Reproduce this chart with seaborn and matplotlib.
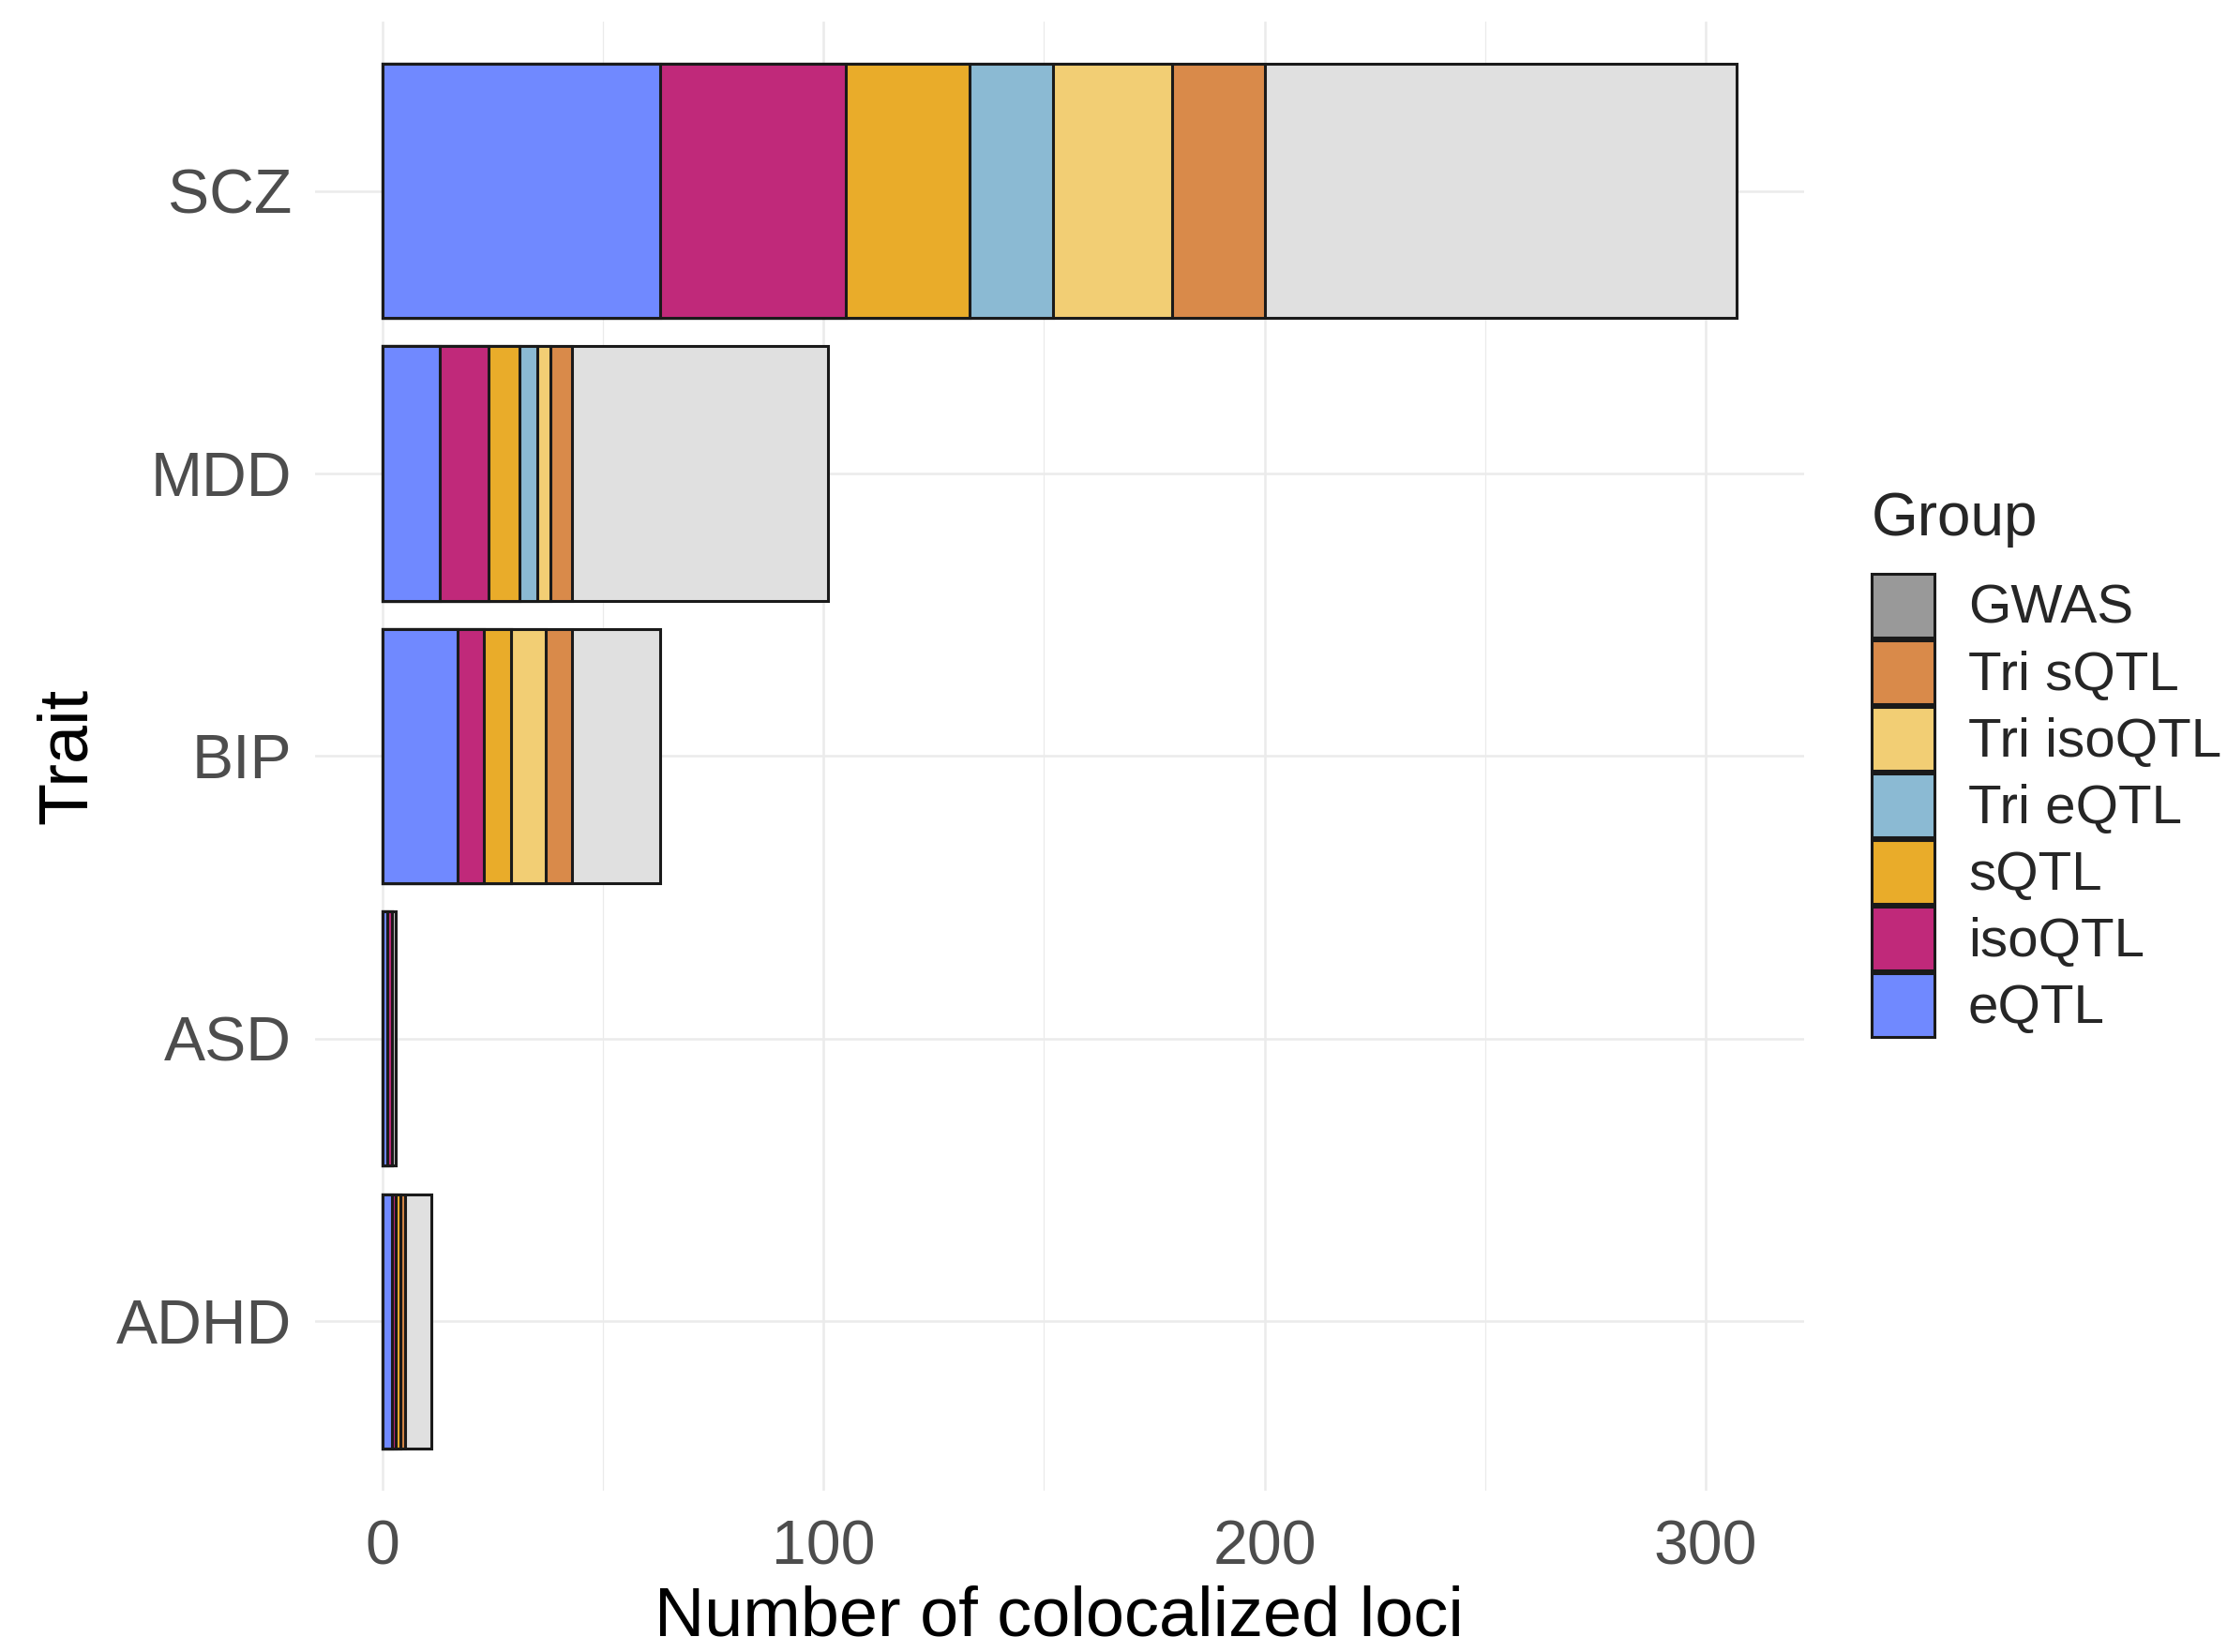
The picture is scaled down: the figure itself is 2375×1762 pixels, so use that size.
import numpy as np
import pandas as pd
import matplotlib
matplotlib.use("Agg")
import matplotlib.pyplot as plt
from matplotlib.patches import Patch
import seaborn as sns

# data
traits = ["SCZ", "MDD", "BIP", "ASD", "ADHD"]
groups = ["eQTL", "isoQTL", "sQTL", "Tri eQTL", "Tri isoQTL", "Tri sQTL", "GWAS"]
eqtl = [63, 13, 17, 1, 2]
isoqtl = [42, 11, 6, 1, 1]
sqtl = [28, 7, 6, 0, 1]
tri_eqtl = [19, 4, 0, 0, 0]
tri_isoqtl = [27, 3, 8, 0, 0]
tri_sqtl = [21, 5, 6, 0, 1]
gwas = [107, 58, 20, 1, 6]

bar_colors = {"eQTL": "#7089FF", "isoQTL": "#C0297A", "sQTL": "#E9AC2A",
              "Tri eQTL": "#8BBAD3", "Tri isoQTL": "#F2CE74", "Tri sQTL": "#D98A4A",
              "GWAS": "#E0E0E0"}
legend_colors = dict(bar_colors, GWAS="#999999")

values = [eqtl, isoqtl, sqtl, tri_eqtl, tri_isoqtl, tri_sqtl, gwas]
rows = []
for g, vals in zip(groups, values):
    for t, v in zip(traits, vals):
        rows.append({"Trait": t, "Group": g, "count": v})
df = pd.DataFrame(rows)
df["Group"] = pd.Categorical(df["Group"], categories=groups, ordered=True)
df = df.sort_values(["Trait", "Group"])
df["cum"] = df.groupby("Trait")["count"].cumsum()

sns.set_theme(style="white")
plt.rcParams["font.family"] = ["Liberation Sans", "DejaVu Sans"]

fig = plt.figure(figsize=(11.875, 8.81), dpi=200)
ax = fig.add_axes([0.1415, 0.0976, 0.6685, 0.8894])

# stacked bars: draw cumulative totals from the outermost segment inwards
for g in reversed(groups):
    sub = df[df["Group"] == g]
    sns.barplot(data=sub, x="cum", y="Trait", order=traits, orient="h",
                color=bar_colors[g], saturation=1, width=0.9, errorbar=None,
                edgecolor="#1a1a1a", linewidth=1.1, ax=ax, zorder=2)

ax.set_xlim(-15.35, 322.35)
ax.set_ylim(4.6, -0.6)
ax.set_xticks([0, 100, 200, 300])
ax.set_xticks([50, 150, 250], minor=True)
ax.grid(which="major", axis="both", color="#EBEBEB", linewidth=0.9, zorder=0)
ax.grid(which="minor", axis="x", color="#EBEBEB", linewidth=0.45, zorder=0)
ax.set_axisbelow(True)
for s in ax.spines.values():
    s.set_visible(False)
ax.tick_params(axis="both", which="both", length=0, labelsize=23.8, labelcolor="#4D4D4D")
ax.tick_params(axis="x", pad=11)
ax.tick_params(axis="y", pad=9)

ax.set_xlabel("Number of colocalized loci", fontsize=26.6, color="black", labelpad=3)
ax.set_ylabel("Trait", fontsize=26.6, color="black", labelpad=6)

handles = [Patch(facecolor=legend_colors[g], edgecolor="#1a1a1a", linewidth=1.1, label=g)
           for g in reversed(groups)]
leg = fig.legend(handles=handles, title="Group", loc="upper left",
                 bbox_to_anchor=(0.828, 0.719), frameon=False, borderpad=0,
                 fontsize=21, title_fontsize=23, handlelength=1.15, handleheight=1.42,
                 labelspacing=0.05, handletextpad=0.62, alignment="left")
leg._legend_box.sep = 9.8

fig.savefig("out.png", dpi=200)
